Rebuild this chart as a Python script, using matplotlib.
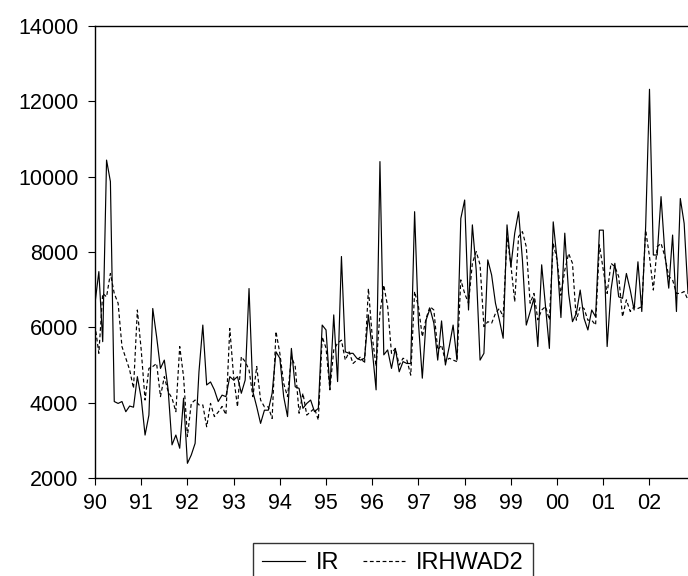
import numpy as np
import matplotlib
matplotlib.use('Agg')
import matplotlib.pyplot as plt

# monthly data, 1990M01 onwards
ir = [6640, 7480, 5620, 10440, 9870, 4030, 3980, 4030, 3760, 3910, 3880, 4690,
      4120, 3140, 3670, 6500, 5750, 4910, 5130, 4340, 2880, 3140, 2790, 4120,
      2390, 2610, 2920, 4820, 6060, 4470, 4550, 4340, 4030, 4200, 4160, 4690,
      4600, 4690, 4250, 4600, 7030, 4290, 3890, 3450, 3800, 3800, 4250, 5350,
      5180, 4160, 3630, 5440, 4420, 4380, 3850, 3980, 4070, 3760, 3850, 6060,
      5930, 4380, 6330, 4560, 7880, 5350, 5310, 5310, 5180, 5130, 5180, 6330,
      5400, 4340, 10400, 5270, 5400, 4910, 5440, 4820, 5090, 5040, 5040, 9070,
      6110, 4650, 6200, 6500, 6110, 5130, 6170, 5000, 5490, 6060, 5130, 8890,
      9380, 6460, 8720, 7520, 5130, 5310, 7790, 7390, 6640, 6200, 5710, 8720,
      7610, 8500, 9070, 7790, 6060, 6420, 6770, 5490, 7660, 6550, 5440, 8800,
      7790, 6260, 8500, 6900, 6150, 6370, 6990, 6240, 5930, 6460, 6280, 8580,
      8580, 5490, 6990, 7700, 6810, 6770, 7430, 6990, 6460, 7740, 6420, 8670,
      12320, 7920, 7920, 9470, 7960, 7040, 8450, 6420, 9420, 8760, 6900]

irhwad2 = [6060, 5310, 6900, 6810, 7430, 6900, 6640, 5490, 5180, 4870, 4380, 6460,
           5400, 4070, 4910, 4960, 5040, 4160, 4690, 4290, 4120, 3760, 5490, 4690,
           3100, 3980, 4070, 3940, 3940, 3360, 3980, 3630, 3750, 3900, 3680, 5970,
           4690, 3890, 5220, 5090, 4870, 4160, 4960, 4070, 3890, 3890, 3580, 5890,
           5310, 4510, 4160, 5220, 4960, 3720, 4250, 3670, 3760, 3850, 3540, 5750,
           5450, 4340, 5400, 5580, 5660, 5130, 5350, 5040, 5130, 5220, 5040, 7030,
           5750, 4960, 6370, 7120, 6550, 5310, 5440, 5000, 5180, 5130, 4730, 6950,
           6550, 5750, 6240, 6550, 6460, 5400, 5530, 5090, 5180, 5130, 5090, 7260,
           6900, 6640, 7700, 8010, 7660, 6020, 6150, 6110, 6370, 6500, 6280, 8410,
           7660, 6680, 8410, 8540, 8140, 6640, 6900, 6200, 6460, 6550, 6200, 8230,
           7790, 6850, 7520, 7960, 7700, 6190, 6550, 6500, 6190, 6190, 6060, 8190,
           7520, 6900, 7700, 7610, 7350, 6280, 6730, 6420, 6550, 6500, 6550, 8580,
           7880, 6990, 8140, 8230, 7880, 7350, 7260, 6900, 6900, 6950, 6730]

year_labels = ['90', '91', '92', '93', '94', '95', '96', '97', '98', '99', '00', '01', '02']
y_ticks = [2000, 4000, 6000, 8000, 10000, 12000, 14000]

plt.rcParams['font.family'] = ['Liberation Sans', 'DejaVu Sans']

months = np.arange(len(ir))

fig = plt.figure(figsize=(6.88, 5.76), dpi=100)
ax = fig.add_axes([95 / 688, 1 - 478 / 576, 1 - 95 / 688, (478 - 26) / 576])

ax.plot(months, ir, color='black', lw=0.85, label='IR')
ax.plot(months, irhwad2, color='black', lw=0.85, ls=(0, (3.2, 2.2)), label='IRHWAD2')

ax.set_xlim(0, len(ir) - 1)
ax.set_ylim(2000, 14000)
ax.set_yticks(y_ticks)
ax.set_yticklabels([str(v) for v in y_ticks])
ax.set_xticks(np.arange(len(year_labels)) * 12)
ax.set_xticklabels(year_labels)

ax.tick_params(axis='both', direction='out', length=5, width=0.8, labelsize=15.5, colors='black')
ax.tick_params(axis='x', pad=6)
ax.tick_params(axis='y', pad=7)
ax.spines['right'].set_visible(False)
for s in ['left', 'bottom', 'top']:
    ax.spines[s].set_linewidth(1.0)

leg = fig.legend(loc='upper center', bbox_to_anchor=(393 / 688, 1 - 543 / 576), ncol=2,
                 fontsize=17, frameon=True, fancybox=False, edgecolor='black',
                 handlelength=1.8, handletextpad=0.45, columnspacing=1.0,
                 borderpad=0.4, borderaxespad=0)
leg.get_frame().set_linewidth(1.0)

fig.savefig('out.png', dpi=100)
